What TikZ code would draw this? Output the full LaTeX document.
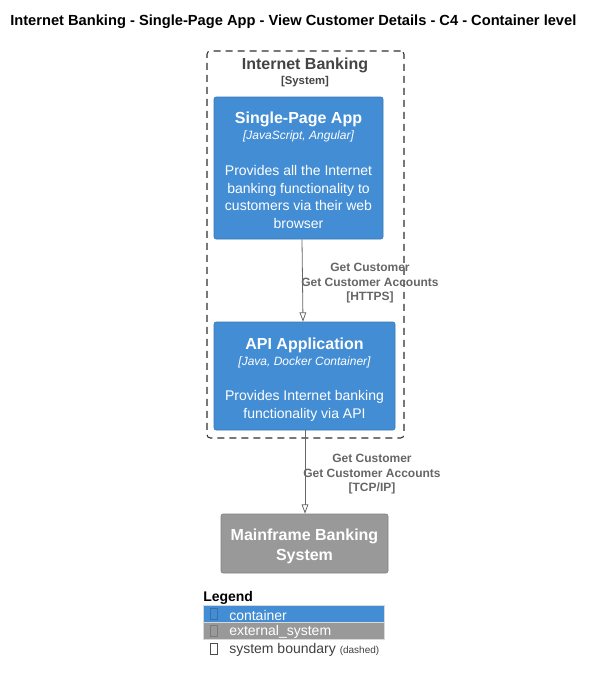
\documentclass[tikz,border=0pt]{standalone}
\usepackage{fontspec}
\setmainfont{Liberation Sans}
\usetikzlibrary{arrows.meta, fit, calc}

\definecolor{cblue}{HTML}{438DD5}
\definecolor{cgray}{HTML}{999999}
\definecolor{reltext}{HTML}{666666}
\definecolor{bndtext}{HTML}{444444}

\begin{document}
\begin{tikzpicture}[x=0.75pt, y=-0.75pt]

        % 1. Styles (one pixel of the reference is one unit)
        \tikzset{
          container/.style={fill=cblue, draw=cblue!85!black, line width=0.4pt, rounded corners=1.5pt, inner sep=0pt},
          extsys/.style={fill=cgray, draw=cgray!85!black, line width=0.4pt, rounded corners=1.5pt, inner sep=0pt},
          boundary/.style={draw=bndtext!70!black, dash pattern=on 5.25pt off 3.75pt, line width=0.8pt, rounded corners=2.5pt, inner sep=0pt},
          boxtitle/.style={text=white, font=\bfseries\fontsize{12}{14}\selectfont, inner sep=0pt},
          boxtech/.style={text=white, font=\itshape\fontsize{9}{11}\selectfont, inner sep=0pt},
          boxdesc/.style={text=white, align=center, font=\fontsize{10.5}{13.2}\selectfont, inner sep=0pt},
          rellabel/.style={text=reltext, align=center, font=\bfseries\fontsize{9}{10.9}\selectfont, inner sep=0pt},
          rel/.style={draw=reltext, line width=0.6pt, -{Triangle[open, length=7pt, width=5pt]}},
          legrow/.style={draw=black!15, line width=0.4pt, inner sep=0pt},
          legtext/.style={anchor=west, font=\fontsize{10.5}{12}\selectfont, inner sep=0pt}
        }

        % 2. Fix the page size
        \useasboundingbox (0,0) rectangle (594,683);

        % 3. Title
        \node[anchor=west, font=\bfseries\fontsize{11}{13}\selectfont, inner sep=0pt] (title) at (10,22)
          {Internet Banking - Single-Page App - View Customer Details - C4 - Container level};

        % 4. System boundary
        \node[boundary, fit={(207,51) (404,438)}] (ib) {};
        \node[text=bndtext, font=\bfseries\fontsize{12}{14}\selectfont, inner sep=0pt] (ibT) at (305,65) {Internet Banking};
        \node[text=bndtext, font=\bfseries\fontsize{8.5}{10}\selectfont, inner sep=0pt] (ibS) at (305,82) {[System]};

        % 5. Containers
        \node[container, fit={(214,97) (383,239)}] (spa) {};
        \node[boxtitle] (spaT) at (298.5,119) {Single-Page App};
        \node[boxtech] (spaS) at (298.5,136) {[JavaScript, Angular]};
        \node[boxdesc] (spaD) at (298.5,197) {Provides all the Internet\\banking functionality to\\customers via their web\\browser};

        \node[container, fit={(214,322) (395,430)}] (api) {};
        \node[boxtitle] (apiT) at (304.5,345) {API Application};
        \node[boxtech] (apiS) at (304.5,362) {[Java, Docker Container]};
        \node[boxdesc] (apiD) at (304.5,406) {Provides Internet banking\\functionality via API};

        % 6. External system
        \node[extsys, fit={(221,514) (388,573)}] (mf) {};
        \node[boxtitle, align=center, font=\bfseries\fontsize{12}{15}\selectfont] (mfT) at (304.5,546) {Mainframe Banking\\System};

        % 7. Relationships
        \draw[rel] ($(spa.south)+(3.5,0)$) -- ($(api.north)+(-1.5,0)$);
        \node[rellabel] (r1) at (370,283.5) {Get Customer\\Get Customer Accounts\\{[HTTPS]}};

        \draw[rel] ($(api.south)+(0.5,0)$) -- ($(mf.north)+(0.5,0)$);
        \node[rellabel] (r2) at (372,474.5) {Get Customer\\Get Customer Accounts\\{[TCP/IP]}};

        % 8. Legend
        \node[anchor=west, font=\bfseries\fontsize{10.5}{12}\selectfont, inner sep=0pt] (leg) at (203,597.5) {Legend};
        \node[legrow, fill=cblue, fit={(203,605) (384,622)}] (legC) {};
        \node[legrow, fill=cgray, fit={(203,622) (384,639)}] (legE) {};
        \node[draw=cblue!80!black, line width=0.4pt, inner sep=0pt, fit={(210,608) (217,619)}] (legCb) {};
        \node[draw=cgray!80!black, line width=0.4pt, inner sep=0pt, fit={(210,625) (217,636)}] (legEb) {};
        \node[draw=black!70, line width=0.4pt, inner sep=0pt, fit={(210,643) (217,654)}] (legBb) {};
        \node[legtext, text=white] (legCt) at (229,615) {container};
        \node[legtext, text=white] (legEt) at (229,632) {external\_system};
        \node[legtext, text=black!75] (legBt) at (229,650) {system boundary \fontsize{7.5}{8}\selectfont(dashed)};

\end{tikzpicture}
\end{document}
